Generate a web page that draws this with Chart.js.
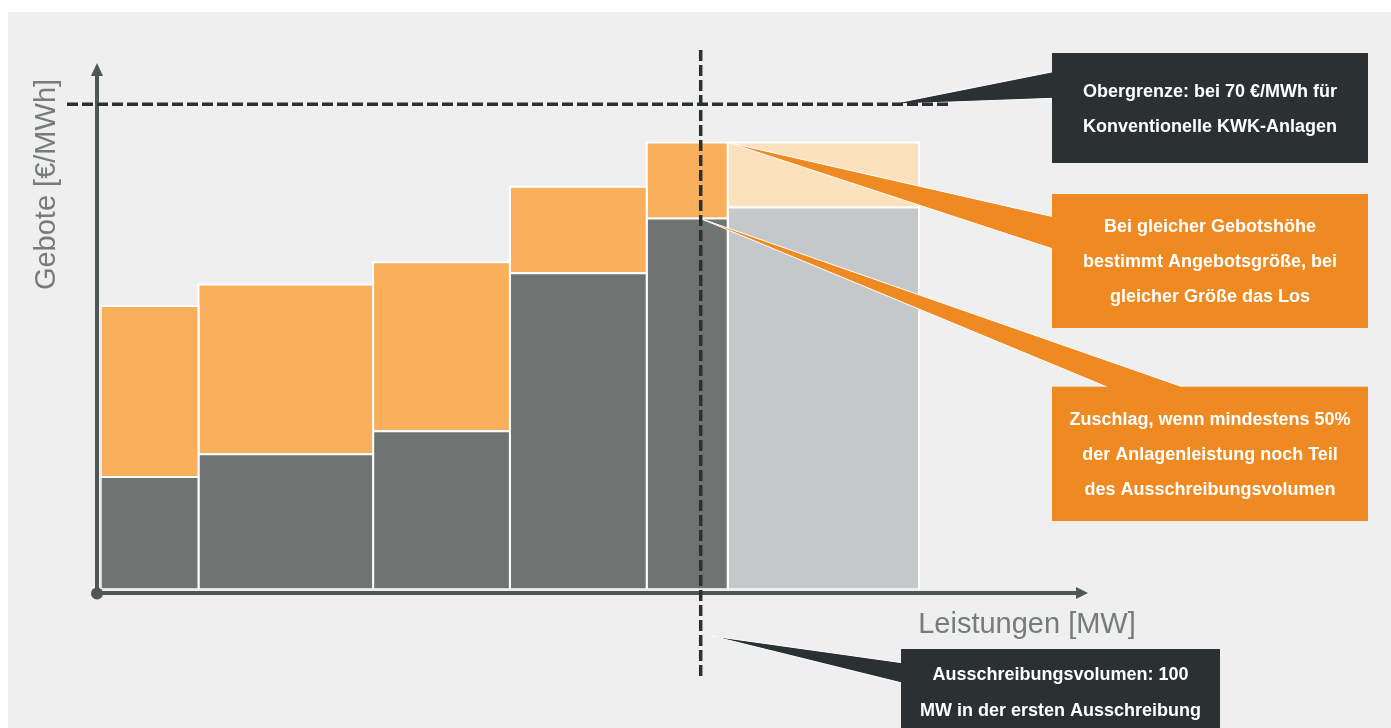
<!DOCTYPE html>
<html lang="de">
<head>
<meta charset="utf-8">
<title>Gebote und Leistungen</title>
<script src="https://cdn.jsdelivr.net/npm/chart.js@4"></script>
<style>
  html, body { margin: 0; padding: 0; background: #ffffff; }
  #wrap { width: 1391px; height: 728px; position: relative; }
</style>
</head>
<body>
<div id="wrap"><canvas id="chart"></canvas></div>
<script>
// ── Daten ──
const kanten     = [0, 16.3, 45.4, 68.2, 91, 104.5, 136.4];   // Blockgrenzen in MW
const grauWerte  = [16.2, 19.5, 22.8, 45.6, 53.5, 55.1];     // €/MWh, unterer Teil
const orangeWerte = [40.9, 44.0, 47.2, 58.1, 64.5, 64.5];    // €/MWh, Gebotsobergrenze je Block
const obergrenze = 70;    // €/MWh
const volumen    = 100;   // MW

const GRAU = '#6f7473', ORANGE = '#f9af5b';
const GRAU_HELL = '#c5c8c8', ORANGE_HELL = '#fde1bd';
const DUNKEL = '#2b3033', KASTEN_ORANGE = '#ee8a21';

function block(x0, x1, y0, y1, color) {
  return {
    data: [{x: x0, y: y0}, {x: x0, y: y1}, {x: x1, y: y1}, {x: x1, y: y0}, {x: x0, y: y0}],
    fill: 'shape',
    backgroundColor: color,
    borderColor: '#ffffff',
    borderWidth: 2,
    borderJoinStyle: 'miter',
    pointRadius: 0,
    tension: 0
  };
}

const datasets = [];
for (let i = 0; i < grauWerte.length; i++) {
  const ausserhalb = kanten[i] >= volumen;
  datasets.push(block(kanten[i], kanten[i + 1], 0, grauWerte[i], ausserhalb ? GRAU_HELL : GRAU));
  datasets.push(block(kanten[i], kanten[i + 1], grauWerte[i], orangeWerte[i], ausserhalb ? ORANGE_HELL : ORANGE));
}

// ── Hintergrund ──
const hintergrund = {
  id: 'hintergrund',
  beforeDraw(chart) {
    const ctx = chart.ctx;
    ctx.save();
    ctx.fillStyle = '#ffffff';
    ctx.fillRect(0, 0, chart.width, chart.height);
    ctx.fillStyle = '#efefef';
    ctx.fillRect(8, 12, chart.width - 8, chart.height - 12);
    ctx.restore();
  }
};

function wedge(ctx, pts, color) {
  ctx.beginPath();
  ctx.moveTo(pts[0][0], pts[0][1]);
  ctx.lineTo(pts[1][0], pts[1][1]);
  ctx.lineTo(pts[2][0], pts[2][1]);
  ctx.closePath();
  ctx.fillStyle = color;
  ctx.fill();
  ctx.strokeStyle = '#ffffff';
  ctx.lineWidth = 1;
  ctx.beginPath();
  ctx.moveTo(pts[1][0], pts[1][1]);
  ctx.lineTo(pts[0][0], pts[0][1]);
  ctx.lineTo(pts[2][0], pts[2][1]);
  ctx.stroke();
}

function kasten(ctx, x, y, w, h, color, lines, lineYs, cx) {
  ctx.fillStyle = color;
  ctx.fillRect(x, y, w, h);
  ctx.fillStyle = '#ffffff';
  ctx.font = 'bold 18px "Liberation Sans", Arial, sans-serif';
  ctx.textAlign = 'center';
  ctx.textBaseline = 'middle';
  lines.forEach((t, i) => ctx.fillText(t, cx, lineYs[i]));
}

// ── Achsen, Linien, Hinweise ──
const deko = {
  id: 'deko',
  afterDatasetsDraw(chart) {
    const ctx = chart.ctx;
    const xs = chart.scales.x, ys = chart.scales.y;
    const ox = xs.getPixelForValue(0) - 3.7;
    const oy = ys.getPixelForValue(0) + 3.7;
    const vx = xs.getPixelForValue(volumen);
    const gy = ys.getPixelForValue(obergrenze);
    ctx.save();

    // Achsen
    ctx.strokeStyle = '#4f5656';
    ctx.fillStyle = '#4f5656';
    ctx.lineWidth = 4;
    ctx.beginPath();
    ctx.moveTo(ox, oy);
    ctx.lineTo(ox, 74);
    ctx.moveTo(ox, oy);
    ctx.lineTo(1078, oy);
    ctx.stroke();
    ctx.beginPath();
    ctx.moveTo(ox - 6, 76); ctx.lineTo(ox + 6, 76); ctx.lineTo(ox, 63); ctx.closePath();
    ctx.fill();
    ctx.beginPath();
    ctx.moveTo(1076, oy - 6); ctx.lineTo(1076, oy + 6); ctx.lineTo(1088, oy); ctx.closePath();
    ctx.fill();
    ctx.beginPath();
    ctx.arc(ox, oy + 0.5, 6, 0, Math.PI * 2);
    ctx.fill();

    // Hinweiskeile
    wedge(ctx, [[xs.getPixelForValue(kanten[5]), ys.getPixelForValue(orangeWerte[4])], [1053, 216.7], [1053, 249]], KASTEN_ORANGE);
    wedge(ctx, [[vx, ys.getPixelForValue(grauWerte[4])], [1183, 387], [1107, 387]], KASTEN_ORANGE);
    wedge(ctx, [[890, gy], [1053, 71.7], [1053, 98.3]], DUNKEL);
    wedge(ctx, [[vx + 11, 636], [902, 662.7], [902, 683]], DUNKEL);

    // gestrichelte Linien
    ctx.strokeStyle = DUNKEL;
    ctx.lineWidth = 3.5;
    ctx.setLineDash([11, 4]);
    ctx.beginPath();
    ctx.moveTo(67, gy);
    ctx.lineTo(952, gy);
    ctx.moveTo(vx, 50);
    ctx.lineTo(vx, 678);
    ctx.stroke();
    ctx.setLineDash([]);

    // Kästen
    kasten(ctx, 1052, 53, 316, 110, DUNKEL,
      ['Obergrenze: bei 70 €/MWh für', 'Konventionelle KWK-Anlagen'], [91.7, 126.7], 1210);
    kasten(ctx, 1052, 194, 316, 134, KASTEN_ORANGE,
      ['Bei gleicher Gebotshöhe', 'bestimmt Angebotsgröße, bei', 'gleicher Größe das Los'], [226.7, 261.7, 296.7], 1210);
    kasten(ctx, 1052, 386.7, 316, 134.3, KASTEN_ORANGE,
      ['Zuschlag, wenn mindestens 50%', 'der Anlagenleistung noch Teil', 'des Ausschreibungsvolumen'], [420, 455.5, 490], 1210);
    kasten(ctx, 901, 649, 319, 90, DUNKEL,
      ['Ausschreibungsvolumen: 100', 'MW in der ersten Ausschreibung'], [675, 711], 1060.5);

    // Achsentitel
    ctx.fillStyle = '#777b7b';
    ctx.font = '29px "Liberation Sans", Arial, sans-serif';
    ctx.textAlign = 'center';
    ctx.textBaseline = 'alphabetic';
    ctx.fillText('Leistungen [MW]', 1027, 633);
    ctx.save();
    ctx.translate(55, 184.5);
    ctx.rotate(-Math.PI / 2);
    ctx.fillText('Gebote [€/MWh]', 0, 0);
    ctx.restore();

    ctx.restore();
  }
};

new Chart(document.getElementById('chart'), {
  type: 'line',
  data: { datasets },
  options: {
    responsive: true,
    maintainAspectRatio: false,
    animation: false,
    events: [],
    layout: { padding: { left: 100.7, right: 390.3, top: 35, bottom: 138.7 } },
    scales: {
      x: { type: 'linear', min: 0, max: 150, display: false },
      y: { type: 'linear', min: 0, max: 80, display: false }
    },
    plugins: {
      legend: { display: false },
      tooltip: { enabled: false }
    }
  },
  plugins: [hintergrund, deko]
});
</script>
</body>
</html>
